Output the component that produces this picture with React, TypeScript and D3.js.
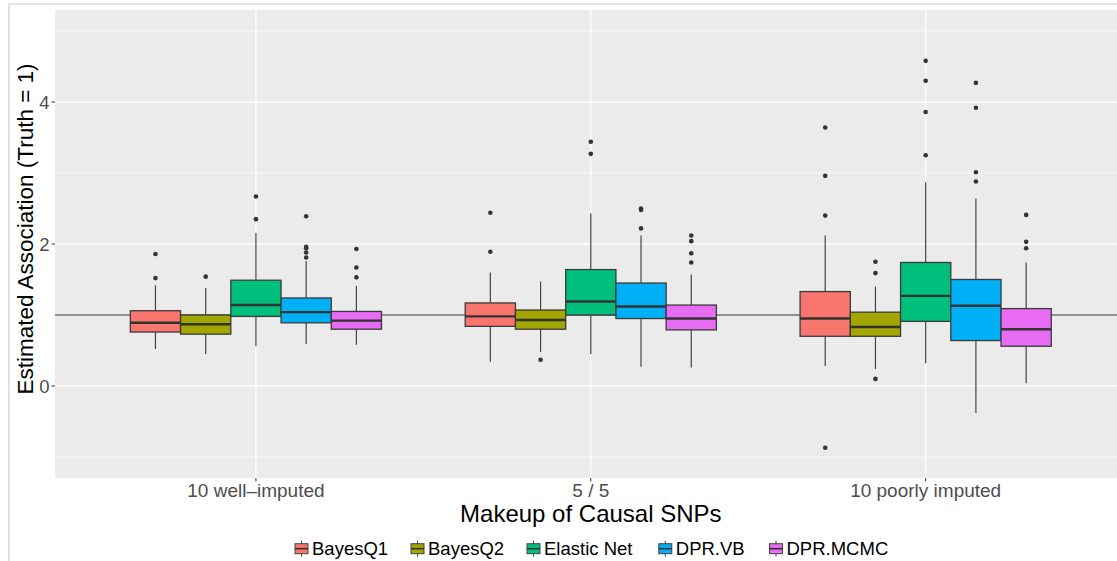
import React from "react";
import * as d3 from "d3";

const categories = ["10 well–imputed", "5 / 5", "10 poorly imputed"];
const methods = ["BayesQ1", "BayesQ2", "Elastic Net", "DPR.VB", "DPR.MCMC"];
const methodColors = ["#F8766D", "#A3A500", "#00BF7D", "#00B0F6", "#E76BF3"];

// per method: [category] -> lower whisker, q1, median, q3, upper whisker
const bayesQ1Stats = [
  [0.52, 0.76, 0.89, 1.06, 1.42],
  [0.34, 0.84, 0.98, 1.17, 1.6],
  [0.28, 0.7, 0.95, 1.33, 2.12],
];
const bayesQ1Outliers = [[1.52, 1.86], [1.89, 2.44], [2.4, 2.96, 3.64, -0.87]];

const bayesQ2Stats = [
  [0.45, 0.73, 0.87, 1.0, 1.38],
  [0.48, 0.8, 0.93, 1.07, 1.47],
  [0.24, 0.7, 0.83, 1.04, 1.4],
];
const bayesQ2Outliers = [[1.54], [0.37], [1.59, 1.75, 0.1]];

const elasticNetStats = [
  [0.56, 0.98, 1.14, 1.49, 2.16],
  [0.45, 1.0, 1.19, 1.64, 2.43],
  [0.32, 0.91, 1.27, 1.74, 2.87],
];
const elasticNetOutliers = [[2.35, 2.67], [3.27, 3.44], [3.25, 3.86, 4.3, 4.58]];

const dprVBStats = [
  [0.59, 0.89, 1.04, 1.24, 1.76],
  [0.27, 0.95, 1.12, 1.45, 2.12],
  [-0.38, 0.64, 1.13, 1.5, 2.64],
];
const dprVBOutliers = [[1.81, 1.88, 1.94, 1.96, 2.39], [2.22, 2.48, 2.5], [2.88, 3.01, 3.92, 4.27]];

const dprMCMCStats = [
  [0.58, 0.8, 0.92, 1.05, 1.41],
  [0.26, 0.79, 0.95, 1.14, 1.57],
  [0.04, 0.56, 0.8, 1.09, 1.74],
];
const dprMCMCOutliers = [[1.53, 1.67, 1.93], [1.74, 1.87, 2.04, 2.12], [1.94, 2.03, 2.41]];

const allStats = [bayesQ1Stats, bayesQ2Stats, elasticNetStats, dprVBStats, dprMCMCStats];
const allOutliers = [bayesQ1Outliers, bayesQ2Outliers, elasticNetOutliers, dprVBOutliers, dprMCMCOutliers];

const yMajorTicks = [0, 2, 4];
const yMinorTicks = [-1, 1, 3, 5];
const truthValue = 1;

const W = 1117;
const H = 561;
const panel = { left: 55, right: 1126.6, top: 10, bottom: 478 };
const FONT = "'Liberation Sans', Arial, Helvetica, sans-serif";

export default function App() {
  const x = d3.scalePoint<string>().domain(categories).range([panel.left, panel.right]).padding(0.6);
  const y = d3.scaleLinear().domain([-1.296, 5.296]).range([panel.bottom, panel.top]);
  const step = x.step();
  const boxW = (step * 0.75) / methods.length;

  const legendKeyX = [301.5, 417.5, 533.5, 665.3, 776];
  const legendY = 548.7;

  return (
    <svg width={W} height={H} style={{ position: "absolute", left: 0, top: 0, background: "#fff" }} fontFamily={FONT}>
      {/* frame */}
      <line x1={9} x2={W} y1={4} y2={4} stroke="#cccccc" strokeWidth={1.2} />
      <line x1={9} x2={9} y1={4} y2={H} stroke="#cccccc" strokeWidth={1.2} />
      {/* panel */}
      <rect x={panel.left} y={panel.top} width={panel.right - panel.left} height={panel.bottom - panel.top} fill="#EBEBEB" />
      {yMinorTicks.map((t) => (
        <line key={"mn" + t} x1={panel.left} x2={panel.right} y1={y(t)} y2={y(t)} stroke="#fff" strokeWidth={0.6} />
      ))}
      {yMajorTicks.map((t) => (
        <line key={"mj" + t} x1={panel.left} x2={panel.right} y1={y(t)} y2={y(t)} stroke="#fff" strokeWidth={1.3} />
      ))}
      {categories.map((c) => (
        <line key={"vx" + c} x1={x(c)} x2={x(c)} y1={panel.top} y2={panel.bottom} stroke="#fff" strokeWidth={1.3} />
      ))}
      {/* truth line */}
      <line x1={panel.left} x2={panel.right} y1={y(truthValue)} y2={y(truthValue)} stroke="#333" strokeWidth={1.2} />
      {/* boxplots */}
      {methods.map((m, mi) =>
        categories.map((c, ci) => {
          const [lo, q1, med, q3, hi] = allStats[mi][ci];
          const cx = (x(c) as number) + (mi - (methods.length - 1) / 2) * boxW;
          return (
            <g key={m + c}>
              <line x1={cx} x2={cx} y1={y(hi)} y2={y(q3)} stroke="#444" strokeWidth={1.2} />
              <line x1={cx} x2={cx} y1={y(q1)} y2={y(lo)} stroke="#444" strokeWidth={1.2} />
              <rect
                x={cx - boxW / 2}
                y={y(q3)}
                width={boxW}
                height={y(q1) - y(q3)}
                fill={methodColors[mi]}
                stroke="#3a3a3a"
                strokeWidth={1.3}
              />
              <line x1={cx - boxW / 2} x2={cx + boxW / 2} y1={y(med)} y2={y(med)} stroke="#333" strokeWidth={2.4} />
              {allOutliers[mi][ci].map((o, oi) => (
                <circle key={oi} cx={cx} cy={y(o)} r={2.3} fill="#333" />
              ))}
            </g>
          );
        })
      )}
      {/* y axis */}
      {yMajorTicks.map((t) => (
        <g key={"yt" + t}>
          <line x1={51.5} x2={panel.left} y1={y(t)} y2={y(t)} stroke="#333" strokeWidth={1} />
          <text x={49.5} y={y(t)} dy="0.36em" textAnchor="end" fontSize={18.5} fill="#4D4D4D">
            {t}
          </text>
        </g>
      ))}
      <text
        transform={`translate(32.5, 229) rotate(-90)`}
        textAnchor="middle"
        fontSize={22.5}
        fill="#000"
      >
        Estimated Association (Truth = 1)
      </text>
      {/* x axis */}
      {categories.map((c) => (
        <g key={"xt" + c}>
          <line x1={x(c)} x2={x(c)} y1={panel.bottom} y2={panel.bottom + 3.5} stroke="#333" strokeWidth={1} />
          <text x={x(c)} y={497} textAnchor="middle" fontSize={19} fill="#4D4D4D">
            {c}
          </text>
        </g>
      ))}
      <text x={(panel.left + panel.right) / 2} y={522} textAnchor="middle" fontSize={24} fill="#000">
        Makeup of Causal SNPs
      </text>
      {/* legend */}
      {methods.map((m, mi) => {
        const kx = legendKeyX[mi];
        return (
          <g key={"lg" + m}>
            <line x1={kx} x2={kx} y1={legendY - 8} y2={legendY + 8} stroke="#4a4a4a" strokeWidth={1} />
            <rect x={kx - 6.5} y={legendY - 5} width={13} height={10} fill={methodColors[mi]} stroke="#444" strokeWidth={1} />
            <line x1={kx - 6.5} x2={kx + 6.5} y1={legendY} y2={legendY} stroke="#333" strokeWidth={1.6} />
            <text x={kx + 10.5} y={555} fontSize={18.5} fill="#000">
              {m}
            </text>
          </g>
        );
      })}
    </svg>
  );
}
